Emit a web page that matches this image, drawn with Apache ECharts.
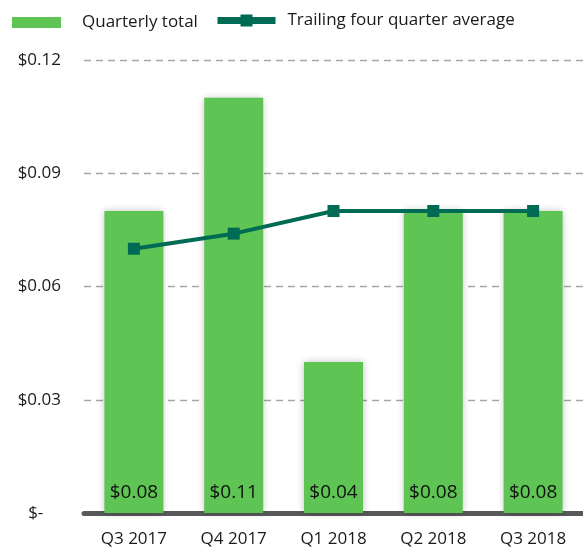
<!DOCTYPE html>
<html><head><meta charset="utf-8">
<script src="https://cdn.jsdelivr.net/npm/echarts@6/dist/echarts.min.js"></script>
<style>html,body{margin:0;padding:0;background:#fff}#c{width:583px;height:550px}</style>
</head><body><div id="c"></div>
<script>
var categories = ['Q3 2017','Q4 2017','Q1 2018','Q2 2018','Q3 2018'];
var quarterlyTotal = [0.08, 0.11, 0.04, 0.08, 0.08];
var trailingAvg = [0.07, 0.074, 0.08, 0.08, 0.08];
var yTicks = [0, 0.03, 0.06, 0.09, 0.12];
var FONT = '"Open Sans", "Noto Sans", sans-serif';
var chart = echarts.init(document.getElementById('c'));
chart.setOption({
  animation: false,
  textStyle: {fontFamily: FONT},
  legend: [
    {
      left: 7, top: 9,
      itemWidth: 49, itemHeight: 11,
      textStyle: {fontFamily: FONT, fontSize: 17, color: '#1a1a1a', padding: [0,0,0,16]},
      data: [{name: 'Quarterly total', icon: 'rect'}]
    },
    {
      left: 209, top: 7,
      itemWidth: 58, itemHeight: 15,
      lineStyle: {width: 7},
      textStyle: {fontFamily: FONT, fontSize: 17, color: '#1a1a1a', padding: [0,0,0,7]},
      data: [{name: 'Trailing four quarter average'}]
    }
  ],
  grid: {left: 84, right: -1, top: 60, bottom: 37},
  xAxis: {
    type: 'category', data: categories,
    axisLine: {lineStyle: {color: '#58595B', width: 5}},
    axisTick: {show: false},
    axisLabel: {fontFamily: FONT, fontSize: 17, color: '#1a1a1a', margin: 18}
  },
  yAxis: {
    type: 'value', min: 0, max: 0.12, interval: 0.03,
    axisLine: {show: false}, axisTick: {show: false},
    splitLine: {lineStyle: {color: '#A6A6A6', type: [7, 5], width: 1.3}},
    axisLabel: {
      fontFamily: FONT, fontSize: 17, color: '#1a1a1a', margin: 23,
      formatter: function (v) { return v === 0 ? '$-    ' : '$' + v.toFixed(2); }
    }
  },
  series: [
    {
      name: 'Quarterly total', type: 'bar', data: quarterlyTotal, barWidth: 59,
      itemStyle: {color: '#5EC453', shadowColor: 'rgba(0,0,0,0.25)', shadowBlur: 7},
      label: {
        show: true, position: 'insideBottom', distance: 11,
        fontFamily: FONT, fontSize: 19, color: '#111',
        formatter: function (p) { return '$' + p.value.toFixed(2); }
      },
      z: 2
    },
    {
      name: 'Trailing four quarter average', type: 'line', data: trailingAvg,
      symbol: 'rect', symbolSize: 12,
      lineStyle: {color: '#006B54', width: 4},
      itemStyle: {color: '#006B54'},
      z: 3
    }
  ]
});
</script></body></html>
